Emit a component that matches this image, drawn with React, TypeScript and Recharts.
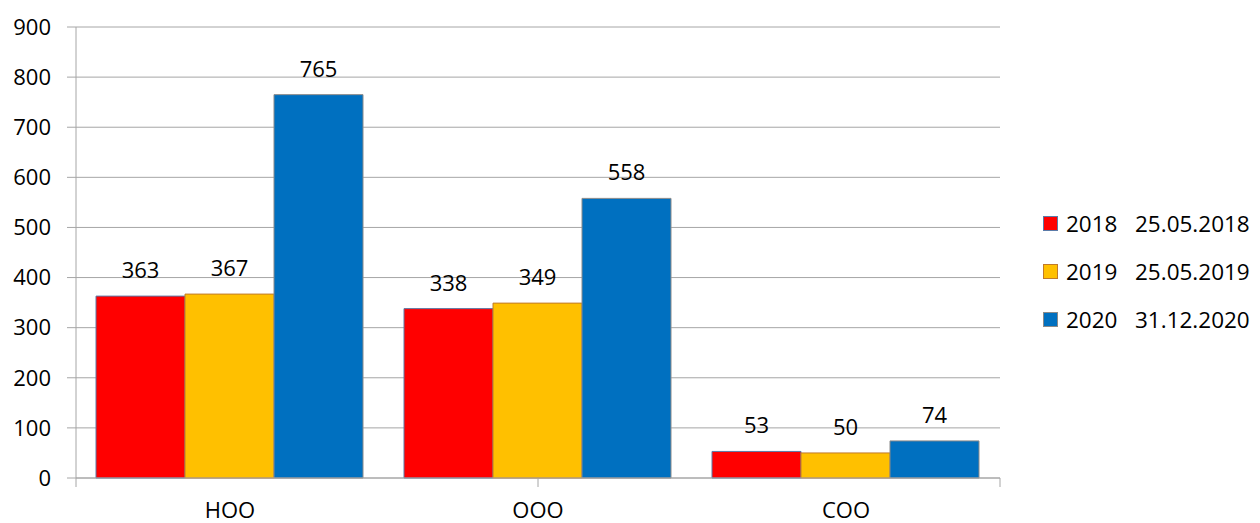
import { BarChart, Bar, XAxis, YAxis, CartesianGrid, Legend, LabelList } from "recharts";

const categories = ["НОО", "ООО", "СОО"];
const series2018 = [363, 338, 53];
const series2019 = [367, 349, 50];
const series2020 = [765, 558, 74];
const seriesNames = ["2018   25.05.2018", "2019   25.05.2019", "2020   31.12.2020"];
const yTicks = [0, 100, 200, 300, 400, 500, 600, 700, 800, 900];
const boundaryTicks = [0, 1, 2, 3];

const fills = ["#ff0000", "#ffc000", "#0070c0"];
const strokes = ["#5b7ba8", "#c07a2a", "#8a8a8a"];
const keys = ["y2018", "y2019", "y2020"];

const data = categories.map((name, i) => ({
  name,
  y2018: series2018[i],
  y2019: series2019[i],
  y2020: series2020[i],
}));

const gridColor = "#a6a6a6";

function LegendBox() {
  return (
    <div style={{ fontSize: 22.5, color: "#000" }}>
      {seriesNames.map((s, i) => (
        <div key={s} style={{ display: "flex", alignItems: "center", height: 48 }}>
          <span
            style={{
              display: "inline-block",
              width: 13,
              height: 13,
              background: fills[i],
              border: `1px solid ${strokes[i]}`,
              marginRight: 8,
            }}
          />
          <span style={{ whiteSpace: "pre" }}>{s}</span>
        </div>
      ))}
    </div>
  );
}

export default function App() {
  return (
    <div
      style={{
        position: "absolute",
        left: 0,
        top: 0,
        width: 1260,
        height: 523,
        background: "#fff",
        fontFamily: "'Open Sans', sans-serif",
      }}
    >
      <BarChart
        width={1260}
        height={523}
        data={data}
        margin={{ top: 27, right: 260, bottom: 0, left: 0 }}
        barCategoryGap={20}
        barGap={0}
      >
        <CartesianGrid stroke={gridColor} vertical={false} />
        {/* category boundaries: ticks only */}
        <XAxis
          xAxisId="bounds"
          type="number"
          domain={[0, 3]}
          ticks={boundaryTicks}
          interval={0}
          height={1}
          tick={() => <g />}
          tickSize={9}
          tickLine={{ stroke: gridColor }}
          stroke={gridColor}
          allowDataOverflow
        />
        <XAxis
          xAxisId="cat"
          dataKey="name"
          height={44}
          axisLine={false}
          tickLine={false}
          tickSize={9}
          tickMargin={14}
          tick={{ fill: "#000", fontSize: 22 }}
        />
        <YAxis
          domain={[0, 900]}
          ticks={yTicks}
          interval={0}
          width={76}
          tickSize={9}
          tickMargin={16}
          stroke={gridColor}
          tick={{ fill: "#000", fontSize: 22 }}
        />
        <Legend
          layout="vertical"
          align="center"
          verticalAlign="middle"
          wrapperStyle={{ left: 1043, top: 199, width: 217 }}
          content={() => <LegendBox />}
        />
        {keys.map((k, i) => (
          <Bar
            key={k}
            xAxisId="cat"
            dataKey={k}
            name={seriesNames[i]}
            fill={fills[i]}
            stroke={strokes[i]}
            strokeWidth={1}
            isAnimationActive={false}
          >
            <LabelList dataKey={k} position="top" offset={18} fill="#000" fontSize={22} />
          </Bar>
        ))}
      </BarChart>
    </div>
  );
}
